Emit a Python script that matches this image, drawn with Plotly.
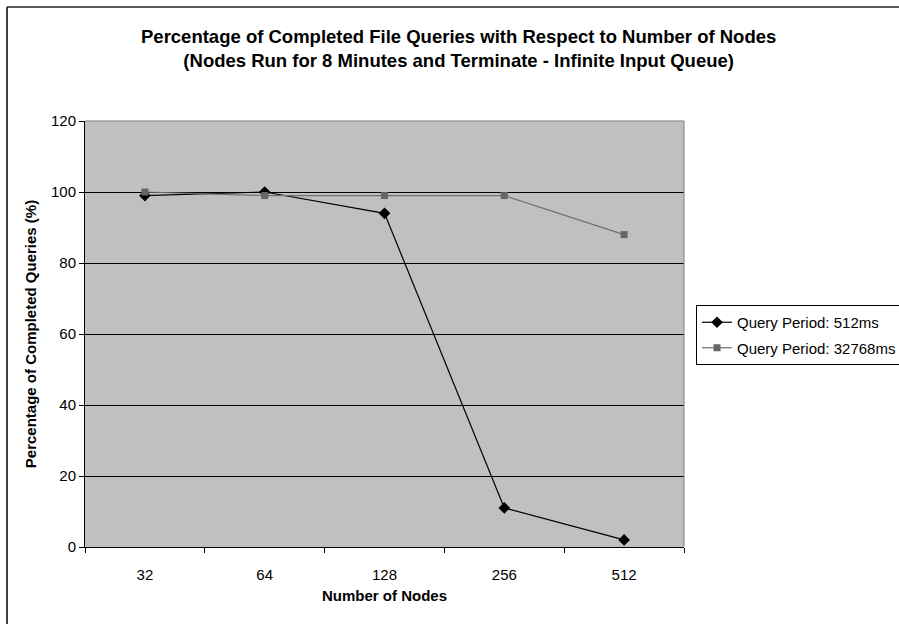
import plotly.graph_objects as go

# Network size (number of nodes) on the category axis
nodes = ["32", "64", "128", "256", "512"]

# Percentage of completed file queries for each query period
completed_512ms = [99, 100, 94, 11, 2]
completed_32768ms = [100, 99, 99, 99, 88]

W, H = 899, 624
L, R, T, B = 85, 215, 121, 77
pw, ph = W - L - R, H - T - B

fig = go.Figure()

fig.add_trace(go.Scatter(
    x=nodes, y=completed_512ms, mode="lines+markers",
    name="Query Period: 512ms", legendgroup="a",
    line=dict(color="#000000", width=1.2),
    marker=dict(symbol="diamond", size=9, color="#000000"),
))
fig.add_trace(go.Scatter(
    x=nodes, y=completed_32768ms, mode="lines+markers",
    name="Query Period: 32768ms", legendgroup="b",
    line=dict(color="#707070", width=1.2),
    marker=dict(symbol="square", size=7, color="#666666"),
))

font_family = "Liberation Sans, Arial, sans-serif"

fig.update_layout(
    width=W, height=H,
    margin=dict(l=L, r=R, t=T, b=B, pad=0, autoexpand=False),
    paper_bgcolor="#FFFFFF",
    plot_bgcolor="#C0C0C0",
    font=dict(family=font_family, size=15, color="#000000"),
    showlegend=True,
    legend=dict(
        x=(696 - L) / pw, xanchor="left",
        y=(H - B - 305) / ph, yanchor="top",
        bordercolor="#000000", borderwidth=1,
        bgcolor="#FFFFFF",
        font=dict(size=15, family=font_family),
        traceorder="grouped", tracegroupgap=3,
    ),
)

# Two-line chart title
fig.add_annotation(
    text="<b>Percentage of Completed File Queries with Respect to Number of Nodes<br>"
         "(Nodes Run for 8 Minutes and Terminate - Infinite Input Queue)</b>",
    xref="paper", yref="paper",
    x=(458 - L) / pw, xanchor="center",
    y=(H - B - 48) / ph, yanchor="middle",
    showarrow=False,
    font=dict(size=18.5, family=font_family, color="#000000"),
)

fig.update_xaxes(
    type="category",
    range=[-0.5, 4.5],
    showgrid=False,
    showline=True, linecolor="#000000", linewidth=1,
    mirror=False,
    ticks="outside", ticklen=5, tickcolor="#000000",
    tickson="boundaries",
    ticklabelstandoff=14,
    tickfont=dict(size=15),
    title=dict(text="<b>Number of Nodes</b>", font=dict(size=15), standoff=8),
)
fig.update_yaxes(
    range=[0, 120], dtick=20,
    showgrid=True, gridcolor="#000000", gridwidth=1,
    showline=True, linecolor="#000000", linewidth=1,
    zeroline=False,
    ticks="outside", ticklen=5, tickcolor="#000000",
    tickfont=dict(size=15),
    title=dict(text="<b>Percentage of Completed Queries (%)</b>", font=dict(size=15), standoff=10),
)

# Plot area border on the top and right sides
fig.add_shape(type="line", xref="paper", yref="paper", x0=0, x1=1, y0=1, y1=1,
              line=dict(color="#808080", width=1))
fig.add_shape(type="line", xref="paper", yref="paper", x0=1, x1=1, y0=0, y1=1,
              line=dict(color="#808080", width=1))

# Outer chart frame (left and top edges)
fx0 = (7 - L) / pw
fy1 = (H - B - 7) / ph
fy0 = (H - B - H - 10) / ph
fig.add_shape(type="line", xref="paper", yref="paper", x0=fx0, x1=fx0, y0=fy0, y1=fy1,
              line=dict(color="#000000", width=1.5))
fig.add_shape(type="line", xref="paper", yref="paper", x0=fx0, x1=(W + 10 - L) / pw, y0=fy1, y1=fy1,
              line=dict(color="#222222", width=1.5))

fig.write_html("out.html")
